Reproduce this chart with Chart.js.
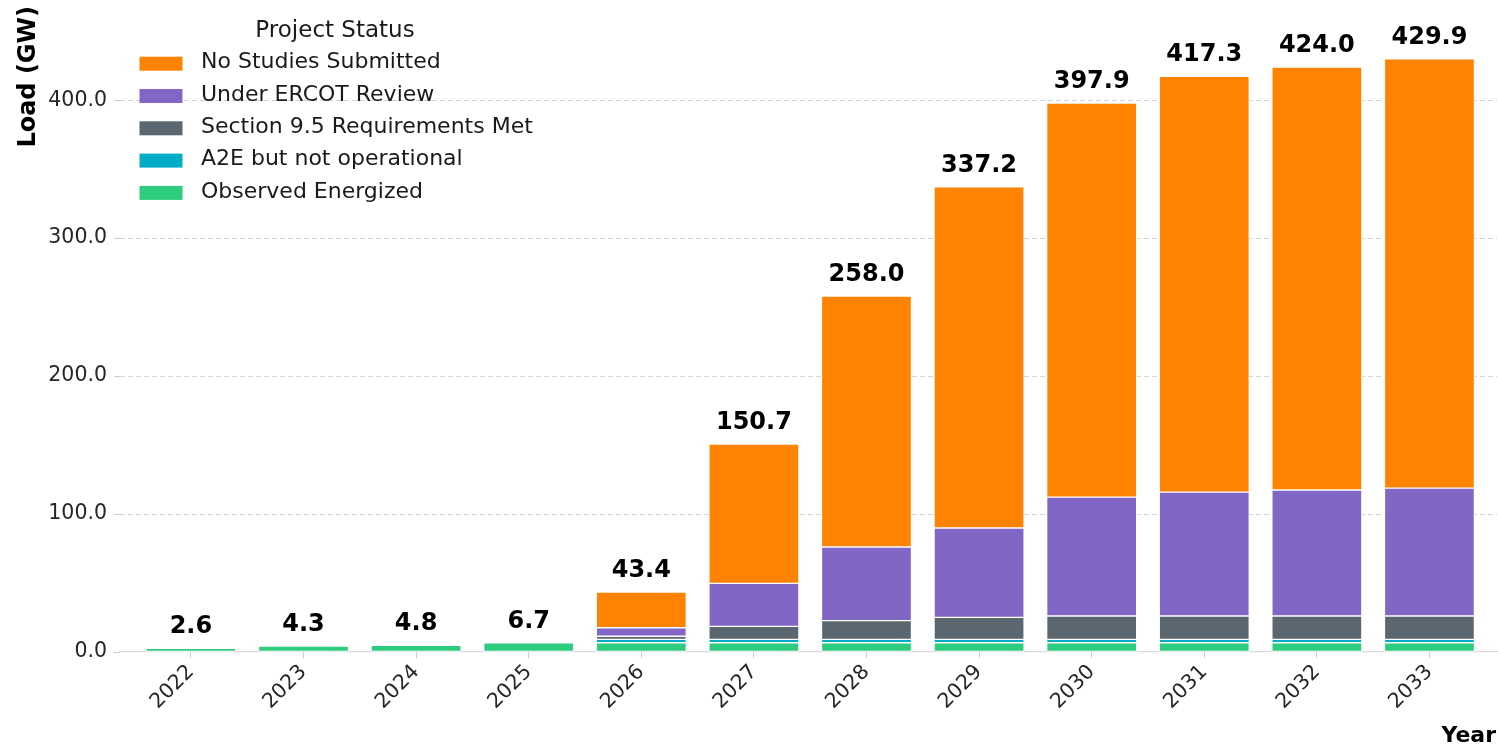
<!DOCTYPE html>
<html>
<head>
<meta charset="utf-8">
<script src="https://cdn.jsdelivr.net/npm/chart.js@4.4.1/dist/chart.umd.min.js"></script>
<style>
  html, body { margin: 0; padding: 0; background: #fff; }
  #wrap { width: 1498px; height: 747px; }
</style>
</head>
<body>
<div id="wrap"><canvas id="loadChart" width="1498" height="747"></canvas></div>
<script>
// år på x-axeln
const years = ['2022', '2023', '2024', '2025', '2026', '2027', '2028', '2029', '2030', '2031', '2032', '2033'];

// lastserier per projektstatus (GW), nedifrån och upp
const observedEnergized = [2.6, 4.3, 4.8, 6.7, 6.7, 6.7, 6.7, 6.7, 6.7, 6.7, 6.7, 6.7];
const a2eNotOperational = [0, 0, 0, 0, 2.5, 2.5, 2.5, 2.5, 2.5, 2.5, 2.5, 2.5];
const section95Met = [0, 0, 0, 0, 2.2, 9.4, 13.5, 15.9, 16.9, 16.9, 16.9, 16.9];
const underErcotReview = [0, 0, 0, 0, 6.2, 31.2, 53.4, 64.8, 86.2, 89.8, 91.3, 92.7];
const noStudiesSubmitted = [0, 0, 0, 0, 25.8, 100.9, 181.9, 247.3, 285.6, 301.4, 306.6, 311.1];

const yTicks = [0, 100, 200, 300, 400];

const FONT = "'DejaVu Sans', sans-serif";

const serier = [
   { label: 'Observed Energized', data: observedEnergized, color: '#2ecc7e' },
   { label: 'A2E but not operational', data: a2eNotOperational, color: '#00acc6' },
   { label: 'Section 9.5 Requirements Met', data: section95Met, color: '#5a6670' },
   { label: 'Under ERCOT Review', data: underErcotReview, color: '#8166c5' },
   { label: 'No Studies Submitted', data: noStudiesSubmitted, color: '#ff8200' }
];

const datasets = serier.map(s => ({
   label: s.label,
   data: s.data.map((v, i) => ({ x: i, y: v })),
   backgroundColor: s.color,
   borderColor: '#ffffff',
   borderWidth: 1,
   borderSkipped: false,
   barThickness: 90
}));

// summa-etiketter ovanför staplarna
const totalLabels = {
   id: 'totalLabels',
   afterDatasetsDraw(chart) {
      const { ctx, scales } = chart;
      ctx.save();
      ctx.font = `bold 24px ${FONT}`;
      ctx.fillStyle = '#000';
      ctx.textAlign = 'center';
      ctx.textBaseline = 'alphabetic';
      years.forEach((y, i) => {
         const total = serier.reduce((sum, s) => sum + s.data[i], 0);
         const x = scales.x.getPixelForValue(i);
         const top = scales.y.getPixelForValue(total);
         ctx.fillText(total.toFixed(1), x, top - 15);
      });
      ctx.restore();
   }
};

// egen legend + axeltitlar
const extras = {
   id: 'extras',
   afterDraw(chart) {
      const { ctx, chartArea } = chart;
      ctx.save();
      // legend
      ctx.fillStyle = '#1a1a1a';
      ctx.font = `23px ${FONT}`;
      ctx.textAlign = 'center';
      ctx.textBaseline = 'middle';
      ctx.fillText('Project Status', 335, 31);
      ctx.font = `22px ${FONT}`;
      ctx.textAlign = 'left';
      const order = serier.slice().reverse();
      order.forEach((s, k) => {
         const cy = 63.7 + k * 32.3;
         ctx.fillStyle = s.color;
         ctx.fillRect(139.5, cy - 7, 43, 14);
         ctx.fillStyle = '#1a1a1a';
         ctx.fillText(s.label, 201, cy - 1);
      });
      // axeltitlar
      ctx.fillStyle = '#000';
      ctx.font = `bold 22px ${FONT}`;
      ctx.textAlign = 'right';
      ctx.textBaseline = 'alphabetic';
      ctx.fillText('Year', chartArea.right - 1, 742);
      ctx.font = `bold 24px ${FONT}`;
      ctx.translate(35, 6);
      ctx.rotate(-Math.PI / 2);
      ctx.fillText('Load (GW)', 0, 0);
      ctx.restore();
   }
};

new Chart(document.getElementById('loadChart').getContext('2d'), {
   type: 'bar',
   data: { datasets },
   plugins: [totalLabels, extras],
   options: {
      responsive: false,
      animation: false,
      devicePixelRatio: 1,
      layout: { padding: { left: 0, right: 1, top: 5, bottom: 0 } },
      plugins: { legend: { display: false }, tooltip: { enabled: false } },
      scales: {
         x: {
            type: 'linear',
            stacked: true,
            offset: false,
            min: -0.63,
            max: 11.6,
            afterBuildTicks: scale => { scale.ticks = years.map((_, i) => ({ value: i })); },
            afterFit: scale => { scale.height = 95; scale.paddingLeft = 0; scale.paddingRight = 0; },
            ticks: {
               autoSkip: false,
               minRotation: 45,
               maxRotation: 45,
               padding: 2,
               color: '#262626',
               font: { family: FONT, size: 20.5 },
               callback: v => years[v]
            },
            grid: { offset: false, drawOnChartArea: false, drawTicks: true, tickLength: 6, tickColor: '#cccccc' },
            border: { display: true, color: '#d9d9d9', width: 1.2 }
         },
         y: {
            stacked: true,
            min: 0,
            max: 469,
            afterBuildTicks: scale => { scale.ticks = yTicks.map(v => ({ value: v })); },
            afterFit: scale => { scale.width = 120; scale.paddingTop = 0; scale.paddingBottom = 0; },
            ticks: {
               padding: 7,
               color: '#262626',
               font: { family: FONT, size: 20.5 },
               callback: v => v.toFixed(1)
            },
            grid: {
               color: c => (c.tick && c.tick.value === 0 ? 'rgba(0,0,0,0)' : '#d4d4d4'),
               lineWidth: 1,
               tickLength: 6,
               tickColor: '#cccccc',
               tickBorderDash: []
            },
            border: { display: false, dash: [5, 3] }
         }
      }
   }
});
</script>
</body>
</html>
